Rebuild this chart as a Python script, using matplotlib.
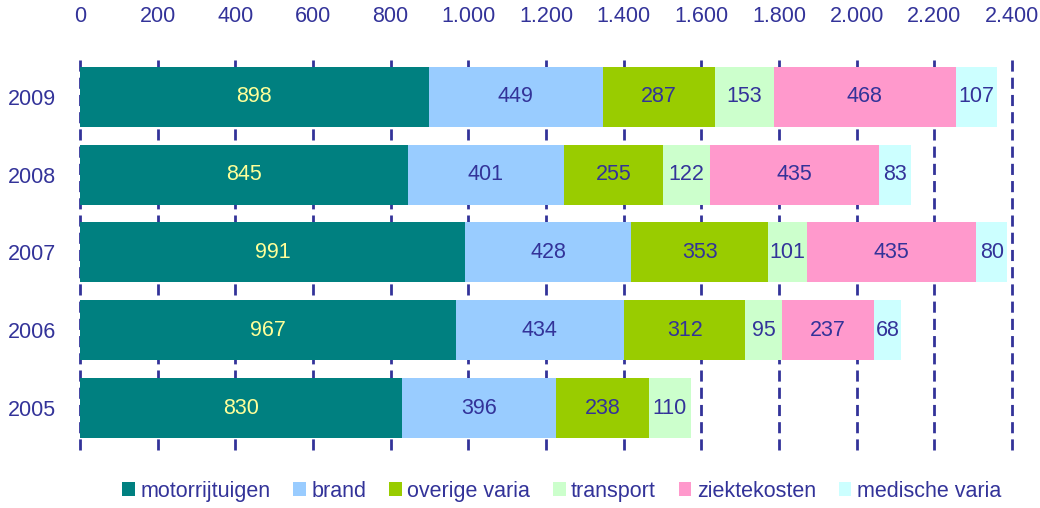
import matplotlib.pyplot as plt
from matplotlib.ticker import FuncFormatter

plt.rcParams['font.family'] = ['Liberation Sans', 'DejaVu Sans']

years = ["2009", "2008", "2007", "2006", "2005"]
series = ["motorrijtuigen", "brand", "overige varia", "transport", "ziektekosten", "medische varia"]
motorrijtuigen = [898, 845, 991, 967, 830]
brand = [449, 401, 428, 434, 396]
overige_varia = [287, 255, 353, 312, 238]
transport = [153, 122, 101, 95, 110]
ziektekosten = [468, 435, 435, 237, 0]
medische_varia = [107, 83, 80, 68, 0]
ticks = [0, 200, 400, 600, 800, 1000, 1200, 1400, 1600, 1800, 2000, 2200, 2400]

values = [motorrijtuigen, brand, overige_varia, transport, ziektekosten, medische_varia]
colors = ["#008080", "#99CCFF", "#99CC00", "#CCFFCC", "#FF99CC", "#CCFFFF"]
label_colors = ["#FFFF99", "#333399", "#333399", "#333399", "#333399", "#333399"]
navy = "#333399"
fs = 15.5

fig = plt.figure(figsize=(10.4, 5.08), dpi=100)
ax = fig.add_axes([0.0769, 0.114, 0.8962, 0.772])

ypos = list(range(len(years)))
left = [0] * len(years)
for name, vals, col, lcol in zip(series, values, colors, label_colors):
    bars = ax.barh(ypos, vals, left=left, height=0.77, color=col, label=name, zorder=2)
    for b, v in zip(bars, vals):
        if v > 0:
            ax.text(b.get_x() + b.get_width() / 2, b.get_y() + b.get_height() / 2, str(v),
                    ha="center", va="center", color=lcol, fontsize=fs, zorder=3)
    left = [a + b for a, b in zip(left, vals)]

ax.set_xlim(0, 2400)
ax.set_ylim(len(years) - 0.46, -0.5)
ax.set_yticks(ypos)
ax.set_yticklabels(years)
ax.set_xticks(ticks)
ax.xaxis.set_major_formatter(FuncFormatter(lambda v, p: f"{int(v):,}".replace(",", ".")))
ax.xaxis.tick_top()
ax.tick_params(axis="both", length=0, labelsize=fs, labelcolor=navy)
ax.tick_params(axis="x", pad=22)
ax.tick_params(axis="y", pad=17)
for s in ax.spines.values():
    s.set_visible(False)
for t in ticks:
    ax.axvline(t, color=navy, lw=2, dashes=(4, 2.2), zorder=1, clip_on=False)

fig.legend(loc="lower center", bbox_to_anchor=(0.54, -0.026), ncol=6, frameon=False,
           fontsize=fs, labelcolor=navy, handlelength=0.6, handleheight=0.6,
           handletextpad=0.25, columnspacing=1.05)

fig.savefig("out.png", dpi=100)
plt.close()
